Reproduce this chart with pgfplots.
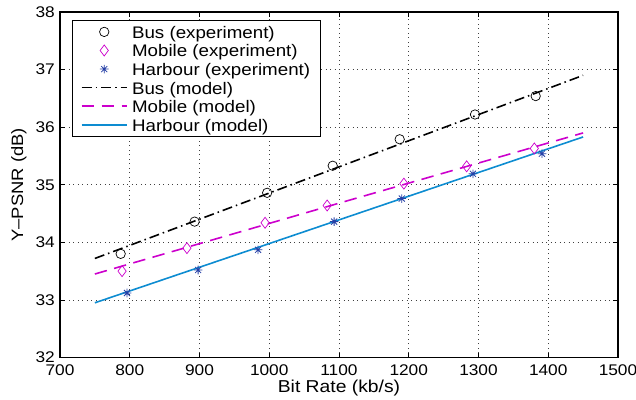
\documentclass[border=0pt]{standalone}
\usepackage{fontspec}
\setmainfont{Liberation Sans}[FakeStretch=1.12]
\usepackage{pgfplots}
\pgfplotsset{compat=1.18}
\definecolor{busc}{rgb}{0,0,0}
\definecolor{mobc}{rgb}{0.80,0,0.80}
\definecolor{harm}{rgb}{0.15,0.25,0.65}
\definecolor{harl}{rgb}{0.05,0.55,0.82}
\pgfdeclareplotmark{mstar}{%
  \pgfpathmoveto{\pgfqpoint{-\pgfplotmarksize}{0pt}}\pgfpathlineto{\pgfqpoint{\pgfplotmarksize}{0pt}}%
  \pgfpathmoveto{\pgfqpoint{0pt}{-\pgfplotmarksize}}\pgfpathlineto{\pgfqpoint{0pt}{\pgfplotmarksize}}%
  \pgfpathmoveto{\pgfqpoint{-0.707\pgfplotmarksize}{-0.707\pgfplotmarksize}}\pgfpathlineto{\pgfqpoint{0.707\pgfplotmarksize}{0.707\pgfplotmarksize}}%
  \pgfpathmoveto{\pgfqpoint{-0.707\pgfplotmarksize}{0.707\pgfplotmarksize}}\pgfpathlineto{\pgfqpoint{0.707\pgfplotmarksize}{-0.707\pgfplotmarksize}}%
  \pgfusepathqstroke}
\begin{document}
\begin{tikzpicture}
\path[use as bounding box] (-60bp,-42.5bp) rectangle (576bp,357.5bp);
\begin{axis}[
  at={(0,0)}, anchor=south west,
  scale only axis, width=558bp, height=345.5bp,
  xmin=700, xmax=1500, ymin=32, ymax=38,
  xtick={700,800,...,1500}, ytick={32,...,38},
  /pgf/number format/assume math mode=true,
  /pgf/number format/1000 sep={},
  tick label style={font=\fontsize{15.5}{18}\selectfont},
  xticklabel style={inner sep=0pt, yshift=-7.5bp},
  yticklabel style={inner sep=0pt, xshift=-5bp},
  tick align=inside, major tick length=5bp,
  axis line style={line width=1.1bp},
  every tick/.style={black, line width=0.7bp},
  grid=major,
  major grid style={black!75, line width=0.7bp, dash pattern=on 0.8bp off 3.7bp},
  xlabel={Bit Rate (kb/s)}, ylabel={Y--PSNR (dB)},
  every axis x label/.style={at={(axis description cs:0.5,-0.0875)}, anchor=center, inner sep=0pt, font=\fontsize{17.3}{20}\selectfont},
  every axis y label/.style={at={(axis description cs:-0.0735,0.5)}, anchor=center, rotate=90, font=\fontsize{16.5}{20}\selectfont},
  legend style={at={(axis description cs:0.0215,0.977)}, anchor=north west,
    font=\fontsize{16.8}{18}\selectfont, draw=black, line width=0.9bp, inner xsep=8.5bp, inner ysep=2.2bp,
    row sep=0pt, nodes={inner sep=1.5bp, text height=14.3bp, text depth=1.3bp}},
  legend cell align=left,
  legend style={/tikz/every odd column/.append style={column sep=3bp}},
  legend image code/.code={\draw[mark repeat=2,mark phase=2,#1] plot coordinates {(0bp,0bp)(22.5bp,0bp)(45bp,0bp)};},
]
\addplot[only marks, mark=o, mark size=4.7bp, busc, line width=0.7bp] coordinates {
(787,33.80)(893,34.36)(997,34.86)(1091,35.33)(1187,35.79)(1295,36.22)(1382,36.54)};
\addlegendentry{Bus (experiment)}
\addplot[only marks, mark=diamond, mark size=5.5bp, mobc, line width=0.7bp] coordinates {
(789,33.50)(882,33.90)(994,34.34)(1083,34.64)(1193,35.02)(1283,35.32)(1380,35.63)};
\addlegendentry{Mobile (experiment)}
\addplot[only marks, mark=mstar, mark size=4.3bp, harm, line width=0.8bp] coordinates {
(796,33.12)(898,33.52)(984,33.87)(1093,34.36)(1190,34.76)(1292,35.19)(1391,35.54)};
\addlegendentry{Harbour (experiment)}
\addplot[busc, line width=1.6bp, dash pattern=on 10bp off 4bp on 1.5bp off 4bp] coordinates {
(750,33.72)(1100,35.31)(1450,36.90)};
\addlegendentry{Bus (model)}
\addplot[mobc, line width=1.6bp, dash pattern=on 12.5bp off 7.5bp] coordinates {
(750,33.45)(1100,34.68)(1450,35.90)};
\addlegendentry{Mobile (model)}
\addplot[harl, line width=1.6bp] coordinates {
(750,32.95)(1100,34.39)(1450,35.83)};
\addlegendentry{Harbour (model)}
\end{axis}
\end{tikzpicture}
\end{document}
